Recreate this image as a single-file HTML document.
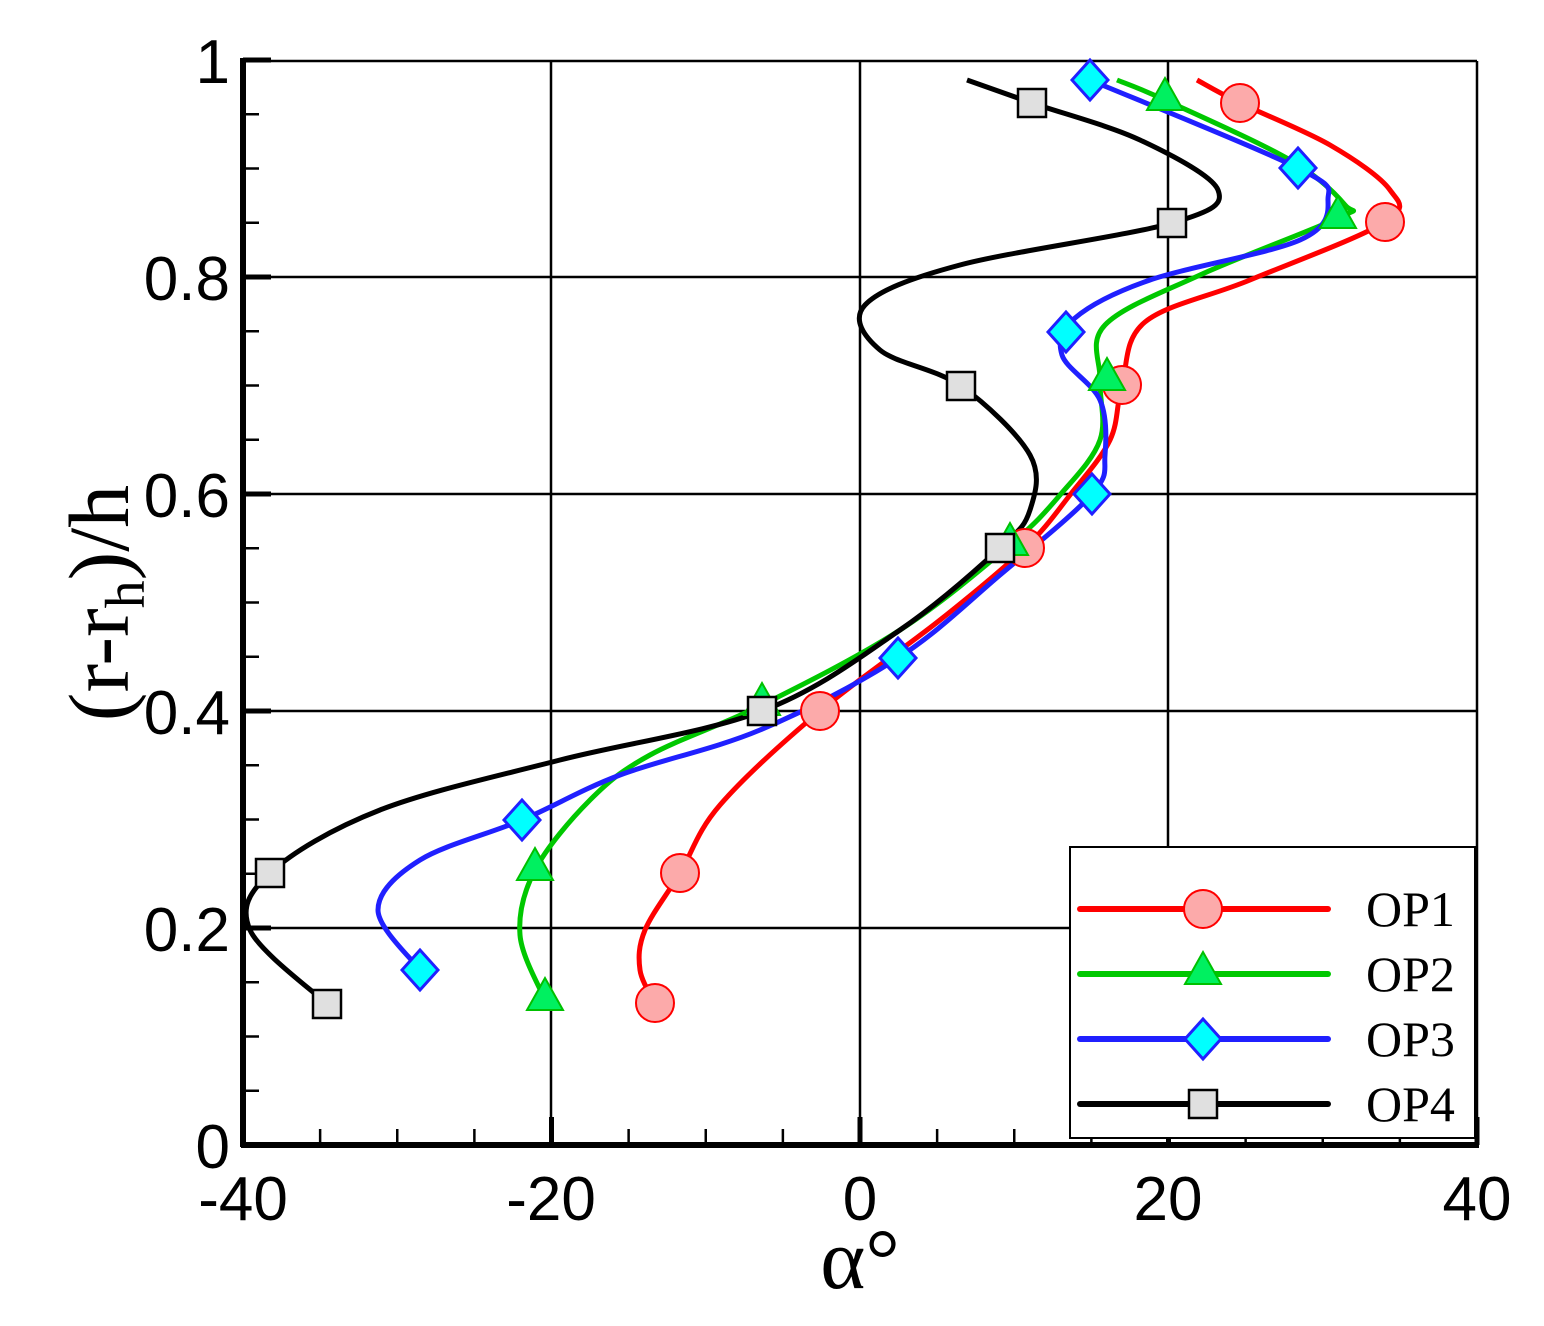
<!DOCTYPE html>
<html><head><meta charset="utf-8"><style>body{margin:0;background:#fff}svg{display:block}</style></head>
<body>
<svg id="s" width="1544" height="1326" xmlns="http://www.w3.org/2000/svg">
<rect width="1544" height="1326" fill="#fff"/>
<g stroke="#000" stroke-width="2.5" fill="none">
<line x1="243" y1="61" x2="1477" y2="61"/>
<line x1="1477" y1="61" x2="1477" y2="1145"/>
<line x1="551" y1="61" x2="551" y2="1145"/>
<line x1="860" y1="61" x2="860" y2="1145"/>
<line x1="1168" y1="61" x2="1168" y2="1145"/>
<line x1="243" y1="277" x2="1477" y2="277"/>
<line x1="243" y1="494" x2="1477" y2="494"/>
<line x1="243" y1="711" x2="1477" y2="711"/>
<line x1="243" y1="928" x2="1477" y2="928"/>
</g>
<g id="ticks" stroke="#000"></g>
<line x1="243" y1="58" x2="243" y2="1147" stroke="#000" stroke-width="6"/>
<line x1="241" y1="1145" x2="1479" y2="1145" stroke="#000" stroke-width="6"/>
<g font-family="Liberation Sans, sans-serif" font-size="62" fill="#000">
<text x="230" y="83" text-anchor="end">1</text>
<text x="230" y="300" text-anchor="end">0.8</text>
<text x="230" y="517" text-anchor="end">0.6</text>
<text x="230" y="734" text-anchor="end">0.4</text>
<text x="230" y="951" text-anchor="end">0.2</text>
<text x="230" y="1168" text-anchor="end">0</text>
<text x="243" y="1220" text-anchor="middle">-40</text>
<text x="551" y="1220" text-anchor="middle">-20</text>
<text x="860" y="1220" text-anchor="middle">0</text>
<text x="1168" y="1220" text-anchor="middle">20</text>
<text x="1477" y="1220" text-anchor="middle">40</text>
</g>
<text x="860" y="1288" text-anchor="middle" font-family="Liberation Serif, serif" font-size="86">α°</text>
<text transform="translate(128,603) rotate(-90)" text-anchor="middle" font-family="Liberation Serif, serif" font-size="86">(r-r<tspan font-size="56" dy="16">h</tspan><tspan dy="-16">)/h</tspan></text>
<g id="curves"></g>
<rect x="1070" y="847" width="405" height="291" fill="#fff" stroke="#000" stroke-width="2"/>
<g id="leg"></g>
<g font-family="Liberation Serif, serif" font-size="50" fill="#000">
<text x="1366" y="926">OP1</text>
<text x="1366" y="991">OP2</text>
<text x="1366" y="1056">OP3</text>
<text x="1366" y="1121">OP4</text>
</g>
</svg>
<script>
var NS="http://www.w3.org/2000/svg";
function el(p,t,a){var e=document.createElementNS(NS,t);for(var k in a)e.setAttribute(k,a[k]);p.appendChild(e);return e;}
var tk=document.getElementById('ticks');
for(var i=0;i<=20;i++){var y=1145-i*54.25;el(tk,'line',{x1:243,y1:y,x2:i%4==0?271:259,y2:y,'stroke-width':i%4==0?5:2.5});}
for(var i=0;i<=16;i++){var x=243+i*77.125;el(tk,'line',{x1:x,y1:1145,x2:x,y2:i%4==0?1117:1129,'stroke-width':i%4==0?5:2.5});}
function cr(p){var d="M"+p[0][0]+","+p[0][1];for(var i=0;i<p.length-1;i++){var a=p[Math.max(i-1,0)],b=p[i],c=p[i+1],e=p[Math.min(i+2,p.length-1)];d+=" C"+(b[0]+(c[0]-a[0])/6)+","+(b[1]+(c[1]-a[1])/6)+" "+(c[0]-(e[0]-b[0])/6)+","+(c[1]-(e[1]-b[1])/6)+" "+c[0]+","+c[1];}return d;}
function mk(g,type,x,y){
 if(type==0)el(g,'circle',{cx:x,cy:y,r:19,fill:'#fcaaaa',stroke:'#f00','stroke-width':2});
 if(type==1)el(g,'polygon',{points:(x)+","+(y-22)+" "+(x-18)+","+(y+10)+" "+(x+18)+","+(y+10),fill:'#00f060',stroke:'#00c000','stroke-width':2});
 if(type==2)el(g,'polygon',{points:x+","+(y-20)+" "+(x+18)+","+y+" "+x+","+(y+20)+" "+(x-18)+","+y,fill:'#00ffff',stroke:'#2020ff','stroke-width':3});
 if(type==3)el(g,'rect',{x:x-14,y:y-14,width:28,height:28,fill:'#e0e0e0',stroke:'#000','stroke-width':2.5});
}
var S=[
 {c:'#f00',p:[[1197,80],[1240,103],[1330,145],[1390,190],[1385,222],[1250,280],[1145,322],[1122,385],[1110,440],[1070,495],[1025,548],[940,620],[820,711],[720,805],[680,873],[645,930],[640,970],[655,1003]],m:[[1240,103],[1385,222],[1122,385],[1025,548],[820,711],[680,873],[655,1003]]},
 {c:'#00c800',p:[[1117,80],[1165,100],[1290,160],[1345,205],[1338,218],[1200,275],[1105,325],[1100,380],[1100,440],[1060,495],[1010,545],[900,630],[762,705],[650,755],[590,800],[535,870],[520,935],[545,1000]],m:[[1165,100],[1338,218],[1107,380],[1010,545],[762,705],[535,870],[545,1000]]},
 {c:'#2020ff',p:[[1090,80],[1298,168],[1328,200],[1300,240],[1150,280],[1075,318],[1062,355],[1100,400],[1105,455],[1092,494],[1000,575],[898,658],[760,730],[620,775],[522,820],[420,860],[378,910],[420,970]],m:[[1090,80],[1298,168],[1066,332],[1092,494],[898,658],[522,820],[420,970]]},
 {c:'#000',p:[[967,80],[1032,103],[1140,140],[1218,190],[1172,223],[960,265],[865,305],[880,350],[961,386],[1030,455],[1030,510],[1000,548],[900,630],[762,711],[560,760],[380,810],[270,873],[250,930],[327,1004]],m:[[1032,103],[1172,223],[961,386],[1000,548],[762,711],[270,873],[327,1004]]}
];
var cg=document.getElementById('curves'),lg=document.getElementById('leg');
S.forEach(function(s,i){el(cg,'path',{d:cr(s.p),fill:'none',stroke:s.c,'stroke-width':5});});
S.forEach(function(s,i){s.m.forEach(function(q){mk(cg,i,q[0],q[1]);});});
S.forEach(function(s,i){var y=909+i*65;el(lg,'line',{x1:1080,y1:y,x2:1328,y2:y,stroke:s.c,'stroke-width':6,'stroke-linecap':'round'});mk(lg,i,1203,y);});
</script>
</body></html>
